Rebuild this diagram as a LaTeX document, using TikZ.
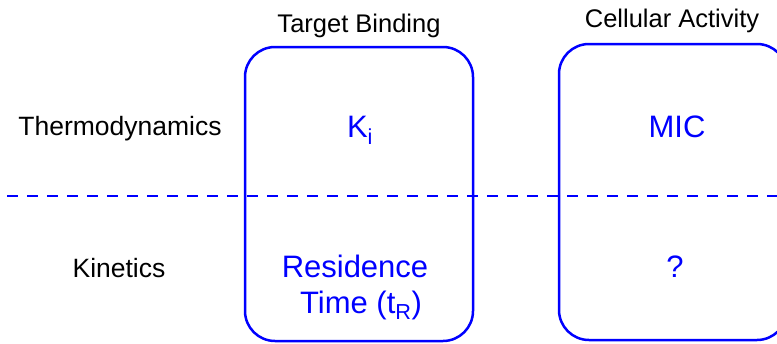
\documentclass[tikz,border=0pt]{standalone}
\usepackage{fontspec}
\setmainfont{Liberation Sans}
\definecolor{pureblue}{RGB}{0,0,255}
\tikzset{
  panel/.style={draw=pureblue, line width=2.5pt, rounded corners=30pt},
  divider/.style={draw=pureblue, line width=2.4pt, dash pattern=on 11pt off 9pt},
  rowlabel/.style={anchor=base, text=black, inner sep=0pt, font=\fontsize{26.5}{30}\selectfont},
  collabel/.style={anchor=base, text=black, inner sep=0pt, font=\fontsize{25.5}{30}\selectfont},
  quantity/.style={anchor=base, text=pureblue, inner sep=0pt, font=\fontsize{31}{36}\selectfont},
}
\begin{document}
\begin{tikzpicture}[x=1pt, y=-1pt]
\useasboundingbox (0,0) rectangle (777,343);
\clip (0,0) rectangle (777,343);

% two columns
\draw[panel] (245,47) rectangle (473,341);
\draw[panel] (559,44) rectangle (787,340);

% boundary between the two regimes
\coordinate (divL) at (7,196);
\coordinate (divR) at (780,196);
\draw[divider] (divL) -- (divR);

% headings
\node[collabel] (target) at (359,32) {Target Binding};
\node[collabel] (cell) at (672,27) {Cellular Activity};
\node[rowlabel] (thermo) at (120,135) {Thermodynamics};
\node[rowlabel] (kin) at (119,277) {Kinetics};

% entries
\node[quantity] (ki) at (360,137) {K\textsubscript{i}};
\node[quantity] (mic) at (677,137) {MIC};
\node[quantity] (res) at (355,277) {Residence};
\node[quantity] (time) at (361,313) {Time (t\textsubscript{R})};
\node[quantity] (unknown) at (675,277) {?};
\end{tikzpicture}
\end{document}
